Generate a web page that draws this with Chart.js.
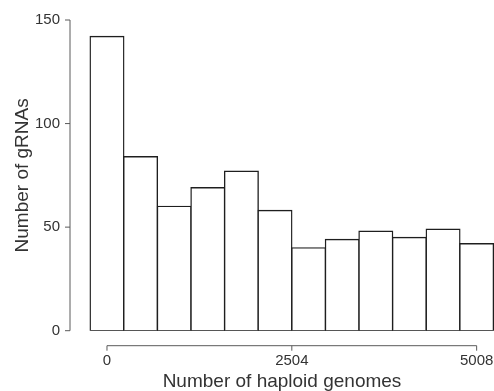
<!DOCTYPE html>
<html>
<head>
<meta charset="utf-8">
<script src="https://cdn.jsdelivr.net/npm/chart.js@4"></script>
<style>
  html, body { margin: 0; padding: 0; background: #fff; }
  #wrap { width: 494px; height: 391px; position: relative; }
</style>
</head>
<body>
<div id="wrap"><canvas id="chart"></canvas></div>
<script>
const binCenters = [0, 455, 911, 1366, 1821, 2276, 2732, 3187, 3642, 4097, 4553, 5008]
const gRNACounts = [142, 84, 60, 69, 77, 58, 40, 44, 48, 45, 49, 42]
const xTicks = [0, 2504, 5008]
const yTicks = [0, 50, 100, 150]

const FONT = "'Liberation Sans', Arial, Helvetica, sans-serif"
const INK = "#1e1e1e"
const AXIS = "#5a5a5a"
const TEXT = "#333"
const BW = 1.4

// R-style axes: lines only run from first to last tick, x axis sits below the bars
const rAxes = {
  id: "rAxes",
  afterDraw(chart) {
    const { ctx, chartArea, scales: { x, y } } = chart
    const ax = chartArea.left
    const ay = chartArea.bottom + 15
    ctx.save()
    ctx.strokeStyle = AXIS
    ctx.lineWidth = 1
    ctx.beginPath()
    ctx.moveTo(ax, y.getPixelForValue(yTicks[0]))
    ctx.lineTo(ax, y.getPixelForValue(yTicks[yTicks.length - 1]))
    yTicks.forEach(t => {
      const py = y.getPixelForValue(t)
      ctx.moveTo(ax, py)
      ctx.lineTo(ax - 5, py)
    })
    ctx.moveTo(x.getPixelForValue(xTicks[0]), ay)
    ctx.lineTo(x.getPixelForValue(xTicks[xTicks.length - 1]), ay)
    xTicks.forEach(t => {
      const px = x.getPixelForValue(t)
      ctx.moveTo(px, ay)
      ctx.lineTo(px, ay + 5)
    })
    ctx.stroke()
    ctx.restore()
  }
}

new Chart(document.getElementById("chart"), {
  type: "bar",
  data: {
    datasets: [{
      data: binCenters.map((c, i) => ({ x: c, y: gRNACounts[i] })),
      backgroundColor: "#fff",
      borderColor: INK,
      borderSkipped: false,
      borderWidth: BW,
      inflateAmount: BW / 2,
      barPercentage: 1,
      categoryPercentage: 1
    }]
  },
  options: {
    responsive: true,
    maintainAspectRatio: false,
    animation: false,
    layout: { padding: { top: 20, right: 0, left: 0, bottom: 0 } },
    plugins: { legend: { display: false }, tooltip: { enabled: false } },
    scales: {
      x: {
        type: "linear",
        offset: false,
        min: -501,
        max: 5243,
        border: { display: false },
        grid: { display: false, offset: false },
        afterBuildTicks: (s) => { s.ticks = xTicks.map(v => ({ value: v })) },
        afterFit: (s) => { s.height = 60.3; s.paddingLeft = 0; s.paddingRight = 0 },
        ticks: {
          padding: 13,
          maxRotation: 0,
          color: TEXT,
          font: { family: FONT, size: 15 },
          callback: (v) => String(v)
        },
        title: {
          display: true,
          text: "Number of haploid genomes",
          color: TEXT,
          font: { family: FONT, size: 19, lineHeight: 1 },
          padding: 0
        }
      },
      y: {
        min: 0,
        max: 150,
        border: { display: false },
        grid: { display: false },
        afterBuildTicks: (s) => { s.ticks = yTicks.map(v => ({ value: v })) },
        afterFit: (s) => { s.width = 70; s.paddingTop = 0; s.paddingBottom = 0 },
        ticks: {
          padding: 2,
          color: TEXT,
          font: { family: FONT, size: 15 }
        },
        title: {
          display: true,
          text: "Number of gRNAs",
          color: TEXT,
          font: { family: FONT, size: 19, lineHeight: 1 },
          padding: { top: 13, bottom: 0 }
        }
      }
    }
  },
  plugins: [rAxes]
})
</script>
</body>
</html>
